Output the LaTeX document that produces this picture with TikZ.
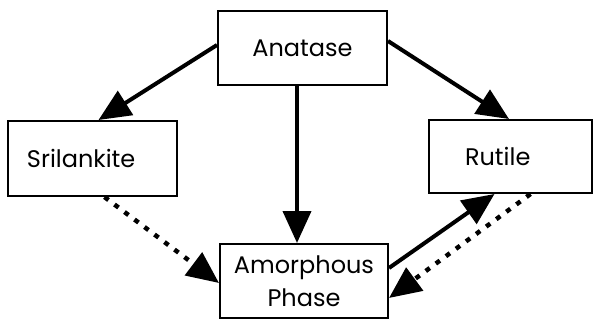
\documentclass[tikz,border=0pt]{standalone}
\usepackage{fontspec}
\setmainfont{Poppins}
\usetikzlibrary{arrows.meta,calc}
\begin{document}
\begin{tikzpicture}[x=1pt,y=-1pt,
  phasebox/.style={draw, line width=2pt, rectangle, inner sep=0pt,
    font=\fontsize{24}{33}\selectfont},
  tip/.style={-{Triangle[length=32pt,width=28pt]}},
  solidarrow/.style={tip, line width=4pt},
  dottedarrow/.style={tip, line width=4.5pt, dash pattern=on 5pt off 7.5pt}]
  \useasboundingbox (0,0) rectangle (594,321);
  % phase boxes
  \node[phasebox, minimum width=169pt, minimum height=74pt] (ana) at (302.5,48) {Anatase};
  \node[phasebox, minimum width=169pt, minimum height=75pt, text width=131pt, align=left] (sri) at (92.5,158.5) {Srilankite};
  \node[phasebox, minimum width=163pt, minimum height=73pt, text width=91pt, align=left] (rut) at (510.5,156.5) {Rutile};
  \node[phasebox, minimum width=168pt, minimum height=74pt, align=center] (amo) at (304,281) {Amorphous\\Phase};
  % transformations
  \draw[solidarrow] ([yshift=3pt]ana.west) -- ([xshift=6pt]sri.north);
  \draw[solidarrow] ([yshift=7pt]ana.east) -- ([xshift=-1.5pt]rut.north);
  \draw[solidarrow] ([xshift=-5.5pt]ana.south) -- ([xshift=-5.5pt]ana.south |- amo.north);
  \draw[dottedarrow] ([xshift=12pt]sri.south) -- ([yshift=-2pt]amo.west);
  \draw[solidarrow] ([yshift=13pt]amo.east) -- ([xshift=-16pt]rut.south);
  \draw[dottedarrow] ([xshift=20pt]rut.south) -- ([yshift=-17pt]amo.east);
\end{tikzpicture}
\end{document}
